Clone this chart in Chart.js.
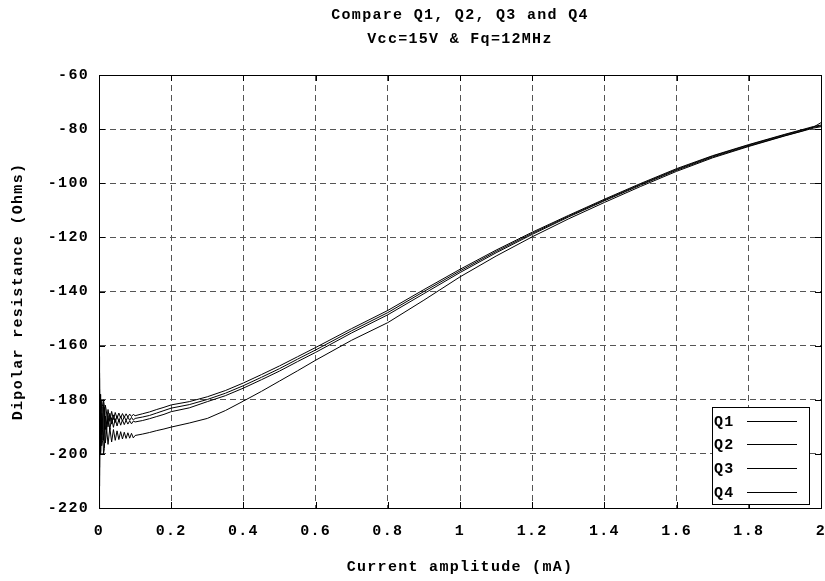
<!DOCTYPE html>
<html>
<head>
<meta charset="utf-8">
<script src="https://cdn.jsdelivr.net/npm/chart.js@4/dist/chart.umd.min.js"></script>
<style>
  html, body { margin: 0; padding: 0; background: #fff; }
</style>
</head>
<body>
<canvas id="chart" width="825" height="581"></canvas>
<script>
// Current amplitude (mA)
const xValues = [
  0, 0.001, 0.002, 0.003, 0.004,
  0.005, 0.0075, 0.01, 0.0125, 0.015, 0.0175, 0.02, 0.025, 0.03, 0.035, 0.04, 0.045, 0.05,
  0.055, 0.06, 0.065, 0.07, 0.075, 0.08, 0.085, 0.09, 0.095, 0.1,
  0.12, 0.14, 0.16, 0.18, 0.2,
  0.25, 0.3, 0.35, 0.4, 0.45, 0.5, 0.55, 0.6,
  0.7, 0.8, 0.9, 1.0, 1.1, 1.2, 1.3, 1.4, 1.5, 1.6, 1.7, 1.8, 1.9,
  1.95, 1.98, 2.0
];

// Dipolar resistance (Ohms)
const q1 = [
  -188, -164, -205, -178, -196,
  -181.0, -193.0, -191.0, -180.0, -182.5, -191.0, -189.5, -183.6, -188.0, -184.3, -187.3, -184.7, -186.9,
  -184.9, -186.7, -185.1, -186.5, -185.2, -186.4, -185.3, -186.2, -185.4, -185.9,
  -185.2, -184.5, -183.6, -182.8, -181.9,
  -180.7, -178.9, -176.6, -173.8, -170.7, -167.5, -164.1, -160.7,
  -153.7, -147.0, -139.3, -131.8, -124.7, -118.1, -111.9, -105.9, -100.1, -94.6, -89.8, -85.7, -81.9,
  -80.1, -79.0, -78.5
];
const q2 = [
  -190, -220, -170, -199, -181,
  -192.8, -180.5, -182.4, -195.0, -191.5, -182.0, -183.8, -190.0, -185.0, -189.0, -185.6, -188.4, -185.9,
  -188.1, -186.1, -187.9, -186.2, -187.7, -186.4, -187.6, -186.5, -187.5, -186.9,
  -186.4, -185.8, -184.9, -184.0, -183.1,
  -181.8, -179.9, -177.6, -174.8, -171.7, -168.5, -165.0, -161.6,
  -154.5, -147.8, -140.0, -132.4, -125.2, -118.5, -112.2, -106.2, -100.4, -94.9, -90.0, -85.9, -82.1,
  -80.3, -79.3, -78.8
];
const q3 = [
  -187, -172, -212, -181, -197,
  -183.2, -197.0, -195.0, -182.0, -184.6, -196.0, -193.0, -185.8, -191.0, -186.6, -190.2, -187.0, -189.7,
  -187.3, -189.4, -187.5, -189.2, -187.6, -189.0, -187.8, -188.9, -187.9, -188.2,
  -187.7, -187.0, -186.2, -185.4, -184.4,
  -183.0, -180.7, -178.5, -175.7, -172.6, -169.4, -165.9, -162.5,
  -155.3, -148.6, -140.8, -133.0, -125.7, -118.9, -112.5, -106.5, -100.7, -95.2, -90.3, -86.2, -82.4,
  -80.6, -79.2, -77.6
];
const q4 = [
  -193, -208, -176, -200, -186,
  -199.5, -185.0, -187.5, -200.0, -198.0, -186.0, -189.0, -196.5, -190.4, -195.6, -191.0, -195.0, -191.5,
  -194.7, -191.8, -194.5, -192.0, -194.3, -192.2, -194.2, -192.4, -194.1, -193.2,
  -192.7, -192.1, -191.4, -190.8, -190.1,
  -188.6, -186.9, -184.0, -180.5, -176.9, -173.1, -169.3, -165.4,
  -158.0, -151.5, -143.2, -134.6, -126.9, -119.8, -113.2, -107.1, -101.2, -95.6, -90.6, -86.4, -82.5,
  -80.7, -79.6, -79.1
];

const seriesNames = ['Q1', 'Q2', 'Q3', 'Q4'];
const seriesValues = [q1, q2, q3, q4];
const titleLines = ['Compare Q1, Q2, Q3 and Q4', 'Vcc=15V & Fq=12MHz'];
const xLabel = 'Current amplitude (mA)';
const yLabel = 'Dipolar resistance (Ohms)';

const FONT = '"Liberation Mono", "Courier New", monospace';
const FONT_SIZE = 15;
const SPACING = '1.3px';

// gnuplot-like spaced lettering, frame, title and legend box
const gnuplotLook = {
  id: 'gnuplotLook',
  beforeDraw(chart) {
    chart.ctx.letterSpacing = SPACING;
  },
  afterDraw(chart) {
    const ctx = chart.ctx;
    const area = chart.chartArea;
    const xs = chart.scales.x, ys = chart.scales.y;
    ctx.save();
    ctx.letterSpacing = SPACING;

    // small inner tick marks
    ctx.strokeStyle = '#000';
    ctx.lineWidth = 1;
    ctx.beginPath();
    xs.ticks.forEach(t => {
      const px = Math.round(xs.getPixelForValue(t.value)) + 0.5;
      ctx.moveTo(px, area.bottom); ctx.lineTo(px, area.bottom - 6);
      ctx.moveTo(px, area.top); ctx.lineTo(px, area.top + 6);
    });
    ys.ticks.forEach(t => {
      const py = Math.round(ys.getPixelForValue(t.value)) + 0.5;
      ctx.moveTo(area.left, py); ctx.lineTo(area.left + 6, py);
      ctx.moveTo(area.right, py); ctx.lineTo(area.right - 6, py);
    });
    ctx.stroke();

    // frame
    ctx.strokeRect(Math.round(area.left) + 0.5, Math.round(area.top) + 0.5,
      Math.round(area.right - area.left), Math.round(area.bottom - area.top));

    // title
    ctx.fillStyle = '#000';
    ctx.font = 'bold ' + FONT_SIZE + 'px ' + FONT;
    ctx.textAlign = 'center';
    ctx.textBaseline = 'middle';
    const cx = (area.left + area.right) / 2;
    ctx.fillText(titleLines[0], cx, 15);
    ctx.fillText(titleLines[1], cx, 39);

    // legend box
    const bx = 712.5, by = 407.5, bw = 97, bh = 97;
    ctx.fillStyle = '#fff';
    ctx.fillRect(bx, by, bw, bh);
    ctx.strokeStyle = '#000';
    ctx.strokeRect(bx, by, bw, bh);
    ctx.textAlign = 'left';
    const rows = [421, 444, 468, 492];
    chart.data.datasets.forEach((ds, i) => {
      ctx.fillStyle = '#000';
      ctx.fillText(ds.label, 714, rows[i] + 1);
      ctx.beginPath();
      ctx.moveTo(747, rows[i] + 0.5);
      ctx.lineTo(797, rows[i] + 0.5);
      ctx.strokeStyle = ds.borderColor;
      ctx.lineWidth = 1;
      ctx.stroke();
    });
    ctx.restore();
    ctx.letterSpacing = '0px';
  }
};

const datasets = seriesNames.map((name, i) => ({
  label: name,
  data: xValues.map((x, j) => ({ x: x, y: seriesValues[i][j] })),
  borderColor: '#000',
  borderWidth: 1,
  pointRadius: 0,
  tension: 0,
  fill: false
}));

const tickFont = { family: FONT, size: FONT_SIZE, weight: 'bold' };

new Chart(document.getElementById('chart'), {
  type: 'line',
  data: { datasets: datasets },
  plugins: [gnuplotLook],
  options: {
    responsive: false,
    devicePixelRatio: 1,
    animation: false,
    layout: { padding: { top: 75, right: 4, left: 0, bottom: 0 } },
    plugins: {
      legend: { display: false },
      tooltip: { enabled: false },
      title: { display: false }
    },
    scales: {
      x: {
        type: 'linear',
        min: 0,
        max: 2,
        ticks: {
          stepSize: 0.2,
          color: '#000',
          font: tickFont,
          padding: 14,
          maxRotation: 0,
          autoSkip: false,
          callback: v => String(Number(v.toFixed(1)))
        },
        grid: {
          color: '#555',
          lineWidth: 1,
          drawTicks: false
        },
        border: { display: true, color: '#000', dash: [6, 4] },
        title: {
          display: true,
          text: xLabel,
          color: '#000',
          font: tickFont,
          padding: { top: 0, bottom: 5 }
        },
        afterFit(scale) {
          scale.height = 73;
          scale.paddingLeft = 0;
          scale.paddingRight = 0;
        }
      },
      y: {
        min: -220,
        max: -60,
        ticks: {
          stepSize: 20,
          color: '#000',
          font: tickFont,
          padding: 10
        },
        grid: {
          color: '#555',
          lineWidth: 1,
          drawTicks: false
        },
        border: { display: true, color: '#000', dash: [6, 4] },
        title: {
          display: true,
          text: yLabel,
          color: '#000',
          font: tickFont,
          padding: { top: 9, bottom: 0 }
        },
        afterFit(scale) { scale.width = 99; }
      }
    }
  }
});
</script>
</body>
</html>
